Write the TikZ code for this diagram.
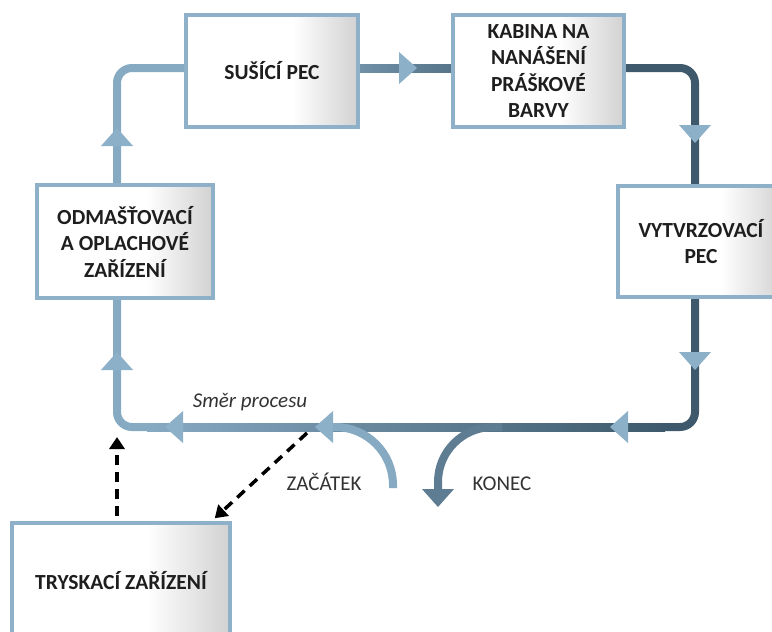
\documentclass[tikz,border=0pt]{standalone}
\usepackage{fontspec}
\setmainfont{Carlito}
\usetikzlibrary{arrows.meta,calc,backgrounds}
\definecolor{boxborder}{HTML}{8EB0C8}
\definecolor{lineL}{HTML}{87AAC3}
\definecolor{lineD}{HTML}{3D596B}
\definecolor{lineK}{HTML}{5E7D93}
\definecolor{topL}{HTML}{6F90A7}
\definecolor{topR}{HTML}{56758A}
\definecolor{arrowF}{HTML}{8DB0C9}
\definecolor{txt}{HTML}{1E1E1E}
\definecolor{lbltxt}{HTML}{333333}
\pgfdeclarehorizontalshading{boxshade}{100bp}{color(0bp)=(white); color(25bp)=(white); color(56bp)=(white); color(75bp)=(black!18); color(100bp)=(black!18)}
\newcommand{\flowtri}[4]{\fill[#4, shift={(#1,#2)}, rotate=#3] (0,0) -- (-18,16) -- (-18,-16) -- cycle;}
\begin{document}
\begin{tikzpicture}[x=1pt,y=-1pt,
  procbox/.style={shade, shading=boxshade, draw=boxborder, line width=3.5pt, inner sep=0pt, align=center, font=\fontsize{21.5}{26.5}\selectfont\bfseries, text=txt},
  flowline/.style={line width=8pt},
  lbl/.style={font=\fontsize{21}{25}\selectfont, text=lbltxt},
  dasharrow/.style={line width=3.5pt, dash pattern=on 10pt off 7pt, -{Triangle[length=12pt,width=15pt]}}]
\clip (0,0) rectangle (772,632);
% corner coordinates of the loop
\coordinate (tl) at (117,68);
\coordinate (tr) at (695,68);
\coordinate (br) at (695,427);
\coordinate (bl) at (117,427);
\coordinate (zs) at (393,488);
\coordinate (ke) at (438,490);
\coordinate (vtip) at (117,437);
\coordinate (dstart) at (307,433);
% boxes
\node[procbox, minimum width=172pt, minimum height=112pt] (sus) at (272,71) {SUŠÍCÍ PEC};
\node[procbox, minimum width=171pt, minimum height=112pt] (kab) at (538.5,71) {KABINA NA\\NANÁŠENÍ\\PRÁŠKOVÉ\\BARVY};
\node[procbox, minimum width=176pt, minimum height=113pt] (odm) at (125,241.5) {ODMAŠŤOVACÍ\\A OPLACHOVÉ\\ZAŘÍZENÍ};
\node[procbox, minimum width=166pt, minimum height=111pt] (vyt) at (701,241.5) {VYTVRZOVACÍ\\PEC};
\node[procbox, minimum width=218pt, minimum height=116pt] (try) at (121,581) {TRYSKACÍ ZAŘÍZENÍ};
% loop lines
\begin{scope}[on background layer]
\fill[white] (0,0) rectangle (772,632);
\draw[flowline, lineL, rounded corners=15pt] ($(bl)+(32,0)$) -- (bl) -- (tl) -- (tl -| sus.west);
\shade[left color=lineL, right color=lineD] ($(bl)+(30,-4)$) rectangle ($(br)+(-30,4)$);
\draw[flowline, lineD, rounded corners=15pt] (tr -| kab.east) -- (tr) -- (br) -- ($(br)+(-32,0)$);
\shade[left color=topL, right color=topR] ($(tl -| sus.east)+(0,-4)$) rectangle ($(tl -| kab.west)+(0,4)$);
\draw[flowline, lineL, rounded corners=58pt] (zs) -- (zs |- bl) -- ($(bl)+(213,0)$);
\draw[flowline, lineK, rounded corners=55pt] ($(bl)+(385,0)$) -- (ke |- bl) -- (ke);
\end{scope}
% arrowheads on the loop
\flowtri{117}{128}{90}{arrowF}
\flowtri{117}{352}{90}{arrowF}
\flowtri{417}{68}{0}{arrowF}
\flowtri{695}{143}{-90}{arrowF}
\flowtri{695}{370}{-90}{arrowF}
\flowtri{610}{427}{180}{arrowF}
\flowtri{165}{427}{180}{arrowF}
\flowtri{315}{427}{180}{arrowF}
\flowtri{438}{507}{-90}{lineK}
% dashed arrows
\draw[dasharrow] ($(try.north -| vtip)+(0,-5)$) -- (vtip);
\draw[dasharrow] (dstart) -- ($(try.north east)+(-17,-3)$);
% labels
\node[lbl, font=\fontsize{21}{25}\selectfont\itshape, anchor=base] (smer) at (250,407) {Směr procesu};
\node[lbl, anchor=base] (zac) at (324,490) {ZAČÁTEK};
\node[lbl, anchor=base] (kon) at (502,490) {KONEC};
\end{tikzpicture}
\end{document}
